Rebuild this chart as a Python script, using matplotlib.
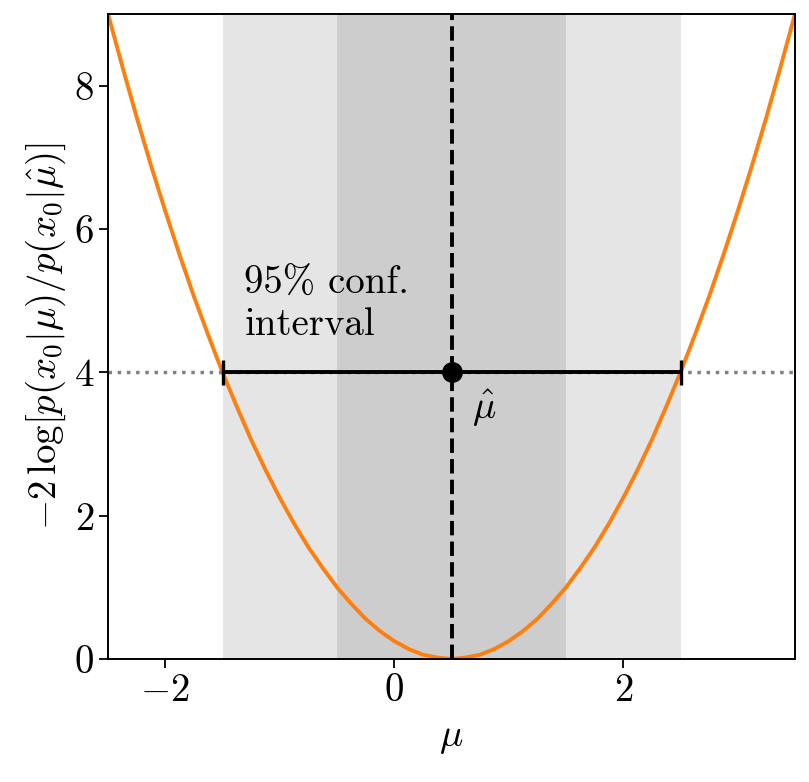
import matplotlib
matplotlib.use("Agg")
import matplotlib.pyplot as plt

plt.rcParams['font.family'] = 'cmr10'
plt.rcParams['mathtext.fontset'] = 'cm'
plt.rcParams['axes.formatter.use_mathtext'] = True
plt.rcParams['font.size'] = 28

mu = [-2.5, -2.375, -2.25, -2.125, -2.0, -1.875, -1.75, -1.625, -1.5, -1.375,
      -1.25, -1.125, -1.0, -0.875, -0.75, -0.625, -0.5, -0.375, -0.25, -0.125,
      0.0, 0.125, 0.25, 0.375, 0.5, 0.625, 0.75, 0.875, 1.0, 1.125,
      1.25, 1.375, 1.5, 1.625, 1.75, 1.875, 2.0, 2.125, 2.25, 2.375,
      2.5, 2.625, 2.75, 2.875, 3.0, 3.125, 3.25, 3.375, 3.5]
neg2loglr = [9.0, 8.27, 7.56, 6.89, 6.25, 5.64, 5.06, 4.52, 4.0, 3.52,
             3.06, 2.64, 2.25, 1.89, 1.56, 1.27, 1.0, 0.77, 0.56, 0.39,
             0.25, 0.14, 0.06, 0.02, 0.0, 0.02, 0.06, 0.14, 0.25, 0.39,
             0.56, 0.77, 1.0, 1.27, 1.56, 1.89, 2.25, 2.64, 3.06, 3.52,
             4.0, 4.52, 5.06, 5.64, 6.25, 6.89, 7.56, 8.27, 9.0]
mu_hat = 0.5
threshold = 4.0
ci_low, ci_high = -1.5, 2.5
band1 = (-0.5, 1.5)
band2 = (-1.5, 2.5)

fig = plt.figure(figsize=(8.09, 7.82), dpi=100)
ax = fig.add_axes([108/809, 1-659/782, (795-108)/809, (659-14)/782])

ax.axvspan(*band2, color='k', alpha=0.1, lw=0)
ax.axvspan(*band1, color='k', alpha=0.1, lw=0)
ax.plot(mu, neg2loglr, color='#ff7f0e', lw=2.8)
ax.axhline(threshold, color='gray', ls=':', lw=2.5)
ax.axvline(mu_hat, color='k', ls='--', lw=2.8)
ax.errorbar([mu_hat], [threshold], xerr=[[mu_hat - ci_low], [ci_high - mu_hat]],
            fmt='o', color='k', ms=14, capsize=9, elinewidth=2.8, capthick=2.4)

ax.text(-1.31, 4.52, '95% conf.\ninterval', fontsize=28, ha='left', va='baseline',
        linespacing=1.2)
ax.text(0.68, 3.5, r'$\hat{\mu}$', fontsize=28, ha='left', va='center')

ax.set_xlim(-2.5, 3.5)
ax.set_ylim(0, 9)
ax.set_xticks([-2, 0, 2])
ax.set_yticks([0, 2, 4, 6, 8])
for s in ax.spines.values():
    s.set_linewidth(1.4)
ax.tick_params(labelsize=28, length=6.5, width=1.3)
ax.set_xlabel(r'$\mu$', fontsize=28, labelpad=8)
ax.set_ylabel(r'$-2\,\log[p(x_0|\mu)/p(x_0|\hat{\mu})]$', fontsize=28)

fig.savefig('out.png', dpi=100)
